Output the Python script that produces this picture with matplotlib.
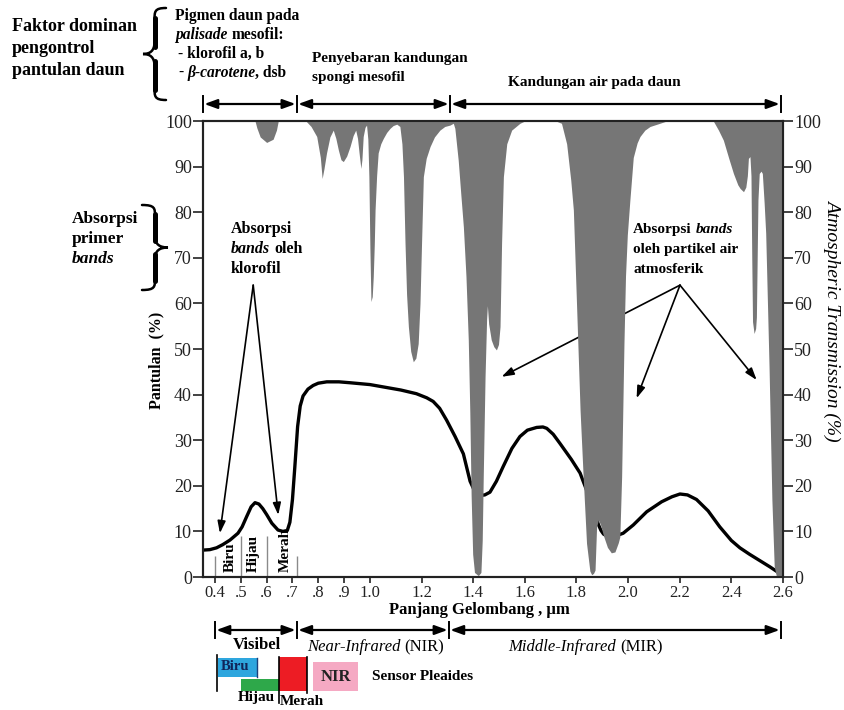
import matplotlib
matplotlib.use('Agg')
import matplotlib.pyplot as plt
from matplotlib.path import Path
from matplotlib.patches import PathPatch, Rectangle
from matplotlib.lines import Line2D

FAM = ['Liberation Serif', 'DejaVu Serif']
plt.rcParams['font.family'] = FAM

# ---------------- data ----------------
# leaf reflectance curve (Pantulan, %)
refl_x = [0.354, 0.38, 0.406, 0.43, 0.458, 0.489, 0.505, 0.523, 0.54, 0.555, 0.57, 0.585,
          0.60, 0.62, 0.644, 0.663, 0.68, 0.69, 0.70, 0.709, 0.72, 0.73, 0.741, 0.76, 0.78,
          0.80, 0.833, 0.88, 0.923, 1.0, 1.05, 1.12, 1.18, 1.22, 1.245, 1.27, 1.297, 1.33,
          1.362, 1.388, 1.41, 1.43, 1.445, 1.465, 1.49, 1.516, 1.55, 1.581, 1.61, 1.646,
          1.67, 1.685, 1.71, 1.736, 1.78, 1.814, 1.826, 1.86, 1.885, 1.895, 1.905, 1.917,
          1.943, 1.981, 2.02, 2.072, 2.13, 2.17, 2.201, 2.23, 2.265, 2.31, 2.355, 2.40,
          2.433, 2.47, 2.51, 2.55, 2.6]
refl_y = [5.9, 6.0, 6.4, 7.1, 8.1, 9.6, 11.0, 13.3, 15.4, 16.3, 16.0, 15.0,
          13.7, 11.8, 10.3, 10.0, 10.2, 12.0, 17.0, 24.0, 33.0, 37.5, 39.7, 41.2, 42.0,
          42.5, 42.8, 42.8, 42.6, 42.2, 41.7, 41.0, 40.2, 39.3, 38.5, 37.0, 34.4, 30.8,
          27.0, 21.0, 18.3, 17.9, 18.0, 18.6, 21.0, 24.2, 28.2, 30.8, 32.2, 32.8,
          32.9, 32.6, 31.3, 29.3, 25.8, 22.8, 21.0, 16.0, 11.5, 10.2, 9.4, 9.0,
          8.8, 9.6, 11.4, 14.3, 16.5, 17.6, 18.2, 18.0, 17.0, 14.5, 11.0, 8.0,
          6.4, 5.0, 3.6, 2.2, 0.3]

# atmospheric transmission (%), grey = absorption above the curve
trans_x = [0.3535, 0.555, 0.562, 0.575, 0.60, 0.625, 0.638, 0.645, 0.752, 0.772, 0.794, 0.808,
           0.815, 0.822, 0.832, 0.845, 0.858, 0.868, 0.878, 0.888, 0.897, 0.91, 0.923, 0.935,
           0.945, 0.952, 0.958, 0.965, 0.969, 0.974, 0.981, 0.987, 0.992, 0.996, 1.0, 1.004,
           1.009, 1.013, 1.017, 1.02, 1.026, 1.032, 1.042, 1.052, 1.065, 1.078, 1.09, 1.104,
           1.116, 1.124, 1.13, 1.136, 1.142, 1.149, 1.158, 1.168, 1.178, 1.187, 1.194, 1.2,
           1.207, 1.218, 1.233, 1.25, 1.271, 1.29, 1.31, 1.323, 1.329, 1.342, 1.352, 1.362,
           1.372, 1.381, 1.387, 1.392, 1.398, 1.405, 1.42, 1.43, 1.435, 1.439, 1.446, 1.452,
           1.455, 1.46, 1.47, 1.48, 1.49, 1.498, 1.504, 1.51, 1.517, 1.53, 1.549, 1.581,
           1.60, 1.72, 1.742, 1.762, 1.778, 1.788, 1.801, 1.814, 1.826, 1.839, 1.852, 1.859,
           1.866, 1.872, 1.878, 1.885, 1.893, 1.905, 1.92, 1.935, 1.949, 1.962, 1.968, 1.975,
           1.984, 1.99, 1.997, 2.007, 2.02, 2.035, 2.046, 2.065, 2.085, 2.123, 2.15, 2.33,
           2.35, 2.369, 2.39, 2.408, 2.425, 2.434, 2.447, 2.456, 2.462, 2.466, 2.472, 2.476,
           2.479, 2.482, 2.488, 2.494, 2.497, 2.503, 2.508, 2.515, 2.52, 2.527, 2.533, 2.546,
           2.557, 2.566, 2.575, 2.6]
trans_y = [100, 100, 98.5, 96.5, 95.3, 96.0, 98.0, 100, 100, 98.8, 96.6, 92,
           87.4, 89.5, 93, 96.5, 98, 96.2, 93.6, 91.5, 91.1, 92.3, 94.4, 96.8,
           98, 96.2, 93, 89.6, 91.5, 96.6, 98.6, 99.1, 96, 87.8, 72, 60.4,
           61.5, 65.9, 73, 80.5, 88, 93, 95, 96.2, 97.5, 98.4, 99.0, 99.3,
           98.8, 95, 87.8, 73.2, 62, 54.9, 49.5, 47.2, 48.0, 51.2, 60, 73.2,
           87.8, 91.8, 94.4, 96.5, 98, 98.8, 99.1, 99.5, 98.4, 91.4, 84, 76.8,
           66, 52, 36, 18, 5, 1, 0.3, 1, 8, 22, 43.9, 56.5,
           59.5, 55.5, 52, 50.5, 49.8, 51, 54.9, 73.2, 87.8, 95, 98, 99.5,
           100, 100, 99.5, 95, 87, 80.5, 58.6, 36.6, 22, 7.4, 1.3, 0.5,
           0.8, 1.5, 11, 12.5, 11.5, 9, 6.5, 5.3, 5.5, 7.5, 8.8, 22,
           51.2, 66, 75, 82.7, 92.0, 95.2, 96.6, 98.0, 98.8, 99.5, 100, 100,
           98, 95.8, 91.8, 88.5, 86, 85.2, 84.5, 85.5, 88, 91.8, 92.2, 88,
           70, 56, 53.4, 54.5, 57, 82.7, 88.5, 89.0, 88.5, 82, 75.4, 46,
           16.9, 2.3, 0, 0]

x_ticks = [0.4, 0.5, 0.6, 0.7, 0.8, 0.9, 1.0, 1.2, 1.4, 1.6, 1.8, 2.0, 2.2, 2.4, 2.6]
x_tick_labels = ['0.4', '.5', '.6', '.7', '.8', '.9', '1.0', '1.2', '1.4', '1.6', '1.8',
                 '2.0', '2.2', '2.4', '2.6']
y_ticks = [0, 10, 20, 30, 40, 50, 60, 70, 80, 90, 100]

band_lines_x = [0.4, 0.5, 0.6, 0.716]
band_lines_h = [4.5, 9.1, 9.1, 4.5]
band_labels = ['Biru', 'Hijau', 'Merah']
band_label_x = [0.458, 0.547, 0.671]

# region arrows (top and bottom) as wavelength bounds
top_bounds = [0.3535, 0.717, 1.31, 2.592]
bottom_bounds = [0.4, 0.717, 1.306, 2.592]

# ---------------- figure ----------------
W, H = 844, 710
fig = plt.figure(figsize=(W / 100, H / 100), dpi=100)
renderer = fig.canvas.get_renderer()


def F(px, py):
    return (px / W, 1 - py / H)


ax = fig.add_axes([203 / W, 1 - 577 / H, 580 / W, 456 / H])
ax.set_xlim(0.3535, 2.6)
ax.set_ylim(0, 100)

GREY = '#767676'
ax.fill_between(trans_x, trans_y, 100, color=GREY, lw=0, zorder=3)
ax.plot(refl_x, refl_y, color='k', lw=2.4, zorder=2, solid_capstyle='round')

ax.vlines(band_lines_x, 0, band_lines_h, color='#8a8a8a', lw=1.0, zorder=2)
for lab, bx in zip(band_labels, band_label_x):
    ax.text(bx, 1.1, lab, rotation=90, ha='center', va='bottom', fontsize=11,
            weight='bold', zorder=5)

ax.set_xticks(x_ticks)
ax.set_xticklabels(x_tick_labels)
ax.set_yticks(y_ticks)
for s in ax.spines.values():
    s.set_linewidth(1.5)
    s.set_color('#222222')
ax.tick_params(axis='both', direction='out', colors='#222222', width=1.2)
ax.tick_params(axis='y', length=7, labelsize=13, pad=1)
ax.tick_params(axis='x', length=4, labelsize=12, pad=2)

ax2 = ax.twinx()
ax2.set_ylim(0, 100)
ax2.set_yticks(y_ticks)
ax2.tick_params(axis='y', direction='out', length=7, width=1.2, labelsize=13, pad=1,
                colors='#222222')
for s in ax2.spines.values():
    s.set_linewidth(1.5)
    s.set_color('#222222')

# ---------------- helpers ----------------
_mcache = {}


def measure(s, size, w, st):
    key = (s, size, w, st)
    if key not in _mcache:
        t = fig.text(0, 0, s, fontsize=size, weight=w, style=st)
        _mcache[key] = t.get_window_extent(renderer).width
        t.remove()
    return _mcache[key]


def space_w(size, w, st):
    return measure('a a', size, w, st) - measure('aa', size, w, st)


def text_runs(px, py, runs, size, ha='left', va='baseline', color='k'):
    pieces = []
    total = 0
    for s, w, st in runs:
        lead = len(s) - len(s.lstrip(' '))
        trail = len(s) - len(s.rstrip(' '))
        core = s.strip(' ')
        sw = space_w(size, w, st)
        wid = measure(core, size, w, st) if core else 0
        pieces.append((lead * sw, core, w, st, wid, trail * sw))
        total += lead * sw + wid + trail * sw
    x = px - (total / 2 if ha == 'center' else 0)
    for lead, core, w, st, wid, trail in pieces:
        x += lead
        if core:
            fig.text(*F(x, py), core, fontsize=size, weight=w, style=st, va=va,
                     ha='left', color=color)
        x += wid + trail


B, N, I = 'bold', 'normal', 'italic'


def brace(tip_x, back_x, y_top, y_bot, lw=1.8, stem_lw=3.6):
    ym = (y_top + y_bot) / 2
    sx = (tip_x + back_x) / 2
    q = (y_bot - y_top) * 0.13
    pts = [(back_x, y_top),
           (sx, y_top), (sx, y_top + q * 0.3), (sx, y_top + q),
           (sx, ym - q),
           (sx, ym - q * 0.25), (sx + (tip_x - sx) * 0.4, ym), (tip_x, ym),
           (sx + (tip_x - sx) * 0.4, ym), (sx, ym + q * 0.25), (sx, ym + q),
           (sx, y_bot - q),
           (sx, y_bot - q * 0.3), (sx, y_bot), (back_x, y_bot)]
    codes = [Path.MOVETO, Path.CURVE4, Path.CURVE4, Path.CURVE4, Path.LINETO,
             Path.CURVE4, Path.CURVE4, Path.CURVE4, Path.CURVE4, Path.CURVE4, Path.CURVE4,
             Path.LINETO, Path.CURVE4, Path.CURVE4, Path.CURVE4]
    path = Path([F(*p) for p in pts], codes)
    fig.add_artist(PathPatch(path, fill=False, lw=lw, color='k',
                             transform=fig.transFigure, capstyle='round'))
    # thicker stems, as in a typeset brace
    for ya, yb in [(y_top + q * 0.8, ym - q * 0.6), (ym + q * 0.6, y_bot - q * 0.8)]:
        fig.add_artist(Line2D([sx / W, sx / W], [1 - ya / H, 1 - yb / H], color='k',
                              lw=stem_lw, solid_capstyle='round',
                              transform=fig.transFigure))


trans = ax.get_xaxis_transform()


def region_arrows(bounds, yf, gap=0.005):
    for i in range(len(bounds) - 1):
        ax.annotate('', xy=(bounds[i + 1] - gap, yf), xytext=(bounds[i] + gap, yf),
                    xycoords=trans, textcoords=trans, annotation_clip=False,
                    arrowprops=dict(arrowstyle='<|-|>,head_length=0.55,head_width=0.2',
                                    color='k', lw=1.6, shrinkA=0, shrinkB=0,
                                    mutation_scale=14))
    for b in bounds:
        ax.plot([b, b], [yf - 0.017, yf + 0.017], transform=trans, color='k', lw=1.4,
                clip_on=False)


def vline_px(x, y0, y1, color='k', lw=1.0):
    fig.add_artist(Line2D([x / W, x / W], [1 - y0 / H, 1 - y1 / H], color=color, lw=lw,
                          transform=fig.transFigure))


def rect_px(x0, y0, x1, y1, color):
    fig.add_artist(Rectangle(F(x0, y1), (x1 - x0) / W, (y1 - y0) / H, facecolor=color,
                             edgecolor='none', transform=fig.transFigure))


# ---------------- top annotations ----------------
for i, line in enumerate(['Faktor dominan', 'pengontrol', 'pantulan daun']):
    fig.text(*F(12, 31 + 22 * i), line, fontsize=13, weight='bold', va='baseline')
brace(143, 166, 8, 100)

text_runs(175, 20, [('Pigmen daun pada', B, N)], 11.2)
text_runs(175, 39, [('palisade', B, I), (' mesofil:', B, N)], 11.2)
text_runs(178, 58, [('- klorofil a, b', B, N)], 11.2)
text_runs(178, 77, [('- ', B, N), ('β-carotene', B, I), (', dsb', B, N)], 11.2)

fig.text(*F(312, 62), 'Penyebaran kandungan', fontsize=11, weight='bold', va='baseline')
fig.text(*F(312, 81), 'spongi mesofil', fontsize=11, weight='bold', va='baseline')
fig.text(*F(508, 86), 'Kandungan air pada daun', fontsize=11, weight='bold', va='baseline')

region_arrows(top_bounds, (577 - 104) / 456)

# left side labels
for i, runs in enumerate([[('Absorpsi', B, N)], [('primer', B, N)], [('bands', B, I)]]):
    text_runs(72, 223 + 20 * i, runs, 12.5)
brace(168, 142, 205, 290)

fig.text(*F(156, 360), 'Pantulan  (%)', rotation=90, fontsize=11.5, weight='bold',
         ha='center', va='center')
fig.text(*F(833, 320), 'Atmospheric Transmission (%)', rotation=270, fontsize=14,
         style='italic', ha='center', va='center')
fig.text(*F(479, 610), 'Panjang Gelombang , µm', fontsize=12, weight='bold',
         ha='center', va='center')

# in-plot annotations
text_runs(231, 233, [('Absorpsi', B, N)], 11.5)
text_runs(231, 253, [('bands', B, I), (' oleh', B, N)], 11.5)
text_runs(231, 273, [('klorofil', B, N)], 11.5)
apex1 = (0.548, 64.0)
for tip in [(0.419, 9.6), (0.645, 13.6)]:
    ax.annotate('', xy=tip, xytext=apex1, zorder=4,
                arrowprops=dict(arrowstyle='-|>,head_length=0.6,head_width=0.2', lw=1.2,
                                color='k', shrinkA=0, shrinkB=0, mutation_scale=12))

text_runs(633, 233, [('Absorpsi ', B, N), ('bands', B, I)], 11)
text_runs(633, 253, [('oleh partikel air', B, N)], 11)
text_runs(633, 273, [('atmosferik', B, N)], 11)
apex2 = (2.201, 64.0)
for tip in [(1.510, 43.9), (2.033, 39.2), (2.498, 43.2)]:
    ax.annotate('', xy=tip, xytext=apex2, zorder=2.5,
                arrowprops=dict(arrowstyle='-|>,head_length=0.6,head_width=0.2', lw=1.2,
                                color='k', shrinkA=0, shrinkB=0, mutation_scale=12))

# ---------------- bottom annotations ----------------
region_arrows(bottom_bounds, (577 - 630) / 456)
fig.text(*F(257, 645), 'Visibel', fontsize=12, weight='bold', ha='center', va='center')
text_runs(307, 651, [('Near-Infrared', N, I), (' (NIR)', N, N)], 12)
text_runs(508, 651, [('Middle-Infrared', N, I), (' (MIR)', N, N)], 12)

# sensor Pleiades bands
rect_px(218, 658, 257, 677, '#2ea6de')
rect_px(241, 679, 279, 691, '#2ea84a')
rect_px(279, 657, 307, 691, '#ed1c24')
rect_px(313, 662, 358, 691, '#f5a9c3')
vline_px(217, 655, 691, lw=1.2)
vline_px(257, 658, 677, color='#1b3f7a', lw=1.0)
vline_px(279, 657, 703, lw=1.2)
vline_px(307, 657, 693, lw=1.2)
fig.text(*F(221, 667), 'Biru', fontsize=10.5, weight='bold', color='#10255a',
         ha='left', va='center')
fig.text(*F(335.5, 677), 'NIR', fontsize=12, weight='bold', color='#222222',
         ha='center', va='center')
fig.text(*F(372, 677), 'Sensor Pleaides', fontsize=11, weight='bold', ha='left',
         va='center')
fig.text(*F(238, 701), 'Hijau', fontsize=11, weight='bold', ha='left', va='baseline')
fig.text(*F(280, 705), 'Merah', fontsize=11, weight='bold', ha='left', va='baseline')

fig.savefig('out.png', dpi=100, facecolor='white')
